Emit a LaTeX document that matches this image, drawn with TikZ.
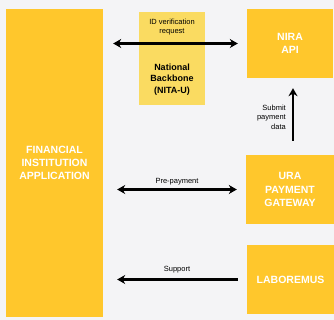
\documentclass[tikz,border=0pt]{standalone}
\usepackage{fontspec}
\setmainfont{Liberation Sans}
\usetikzlibrary{arrows.meta}
\definecolor{bg}{HTML}{F4F4F6}
\definecolor{boxy}{HTML}{FFC72C}
\definecolor{lighty}{HTML}{FADB61}
\tikzset{
  sysbox/.style={fill=boxy,draw=none,inner sep=0pt,text=white,font=\bfseries\fontsize{10.5}{13.3}\selectfont,align=center},
  lbl/.style={font=\fontsize{7.5}{9.4}\selectfont,align=center,inner sep=0pt},
  conn/.style={line width=2.6pt,draw=black},
  tip/.style={Stealth[length=8pt,width=9pt]}
}
\begin{document}
\begin{tikzpicture}[x=1pt,y=-1pt]
\useasboundingbox (0,0) rectangle (334,320);
\fill[bg] (0,0) rectangle (334,320);
\node[fill=lighty,minimum width=66pt,minimum height=93pt,inner sep=0pt] (nb) at (172,58.5) {};
\node[font=\bfseries\fontsize{9}{11.3}\selectfont,align=center,inner sep=0pt] (nbt) at (172,79.5) {National\\Backbone\\(NITA-U)};
\node[sysbox,minimum width=97pt,minimum height=308pt] (fin) at (54.5,163) {FINANCIAL\\INSTITUTION\\APPLICATION};
\node[sysbox,minimum width=86pt,minimum height=69pt] (nira) at (290,43.5) {NIRA\\API};
\node[sysbox,minimum width=88pt,minimum height=69pt] (ura) at (290,189.5) {URA\\PAYMENT\\GATEWAY};
\node[sysbox,minimum width=87pt,minimum height=69pt] (lab) at (290.5,279.5) {LABOREMUS};
\draw[conn,{Stealth[length=8pt,width=9pt]}-{Stealth[length=8pt,width=9pt]},shorten <=10pt,shorten >=9pt] (fin.east |- nira.west) -- (nira.west);
\draw[conn,{Stealth[length=8pt,width=9pt]}-{Stealth[length=8pt,width=9pt]},shorten <=14pt,shorten >=9pt] (fin.east |- ura.west) -- (ura.west);
\draw[conn,{Stealth[length=8pt,width=9pt]}-,shorten <=14pt,shorten >=9pt] (fin.east |- lab.west) -- (lab.west);
\draw[conn,-{Stealth[length=8pt,width=9pt]},shorten <=14pt,shorten >=10pt] (ura.north -| 293,0) -- (nira.south -| 293,0);
\node[lbl] (l1) at (172,27) {ID verification\\request};
\node[lbl] (l2) at (177,182) {Pre-payment};
\node[lbl] (l3) at (177,270) {Support};
\node[lbl,align=right,anchor=east] (l4) at (286,117) {Submit\\payment\\data};
\end{tikzpicture}
\end{document}
